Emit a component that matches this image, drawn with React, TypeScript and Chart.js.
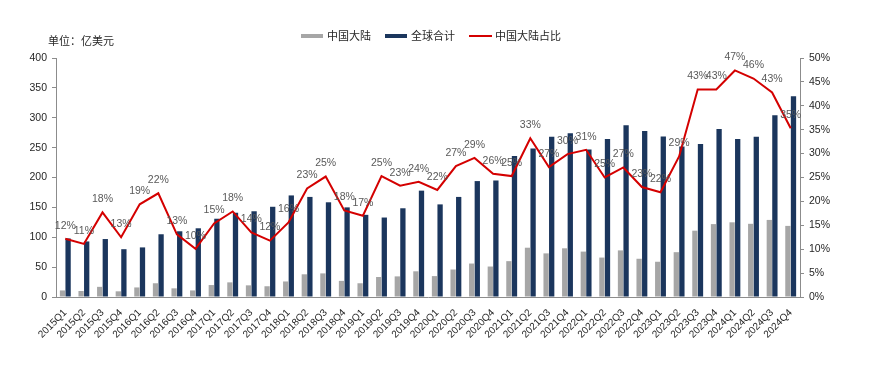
import React, { useEffect, useRef } from "react";
import { Chart, registerables } from "chart.js";

Chart.register(...registerables);

const categories = [
  "2015Q1", "2015Q2", "2015Q3", "2015Q4",
  "2016Q1", "2016Q2", "2016Q3", "2016Q4",
  "2017Q1", "2017Q2", "2017Q3", "2017Q4",
  "2018Q1", "2018Q2", "2018Q3", "2018Q4",
  "2019Q1", "2019Q2", "2019Q3", "2019Q4",
  "2020Q1", "2020Q2", "2020Q3", "2020Q4",
  "2021Q1", "2021Q2", "2021Q3", "2021Q4",
  "2022Q1", "2022Q2", "2022Q3", "2022Q4",
  "2023Q1", "2023Q2", "2023Q3", "2023Q4",
  "2024Q1", "2024Q2", "2024Q3", "2024Q4",
];

const chinaMainland = [
  11, 10, 17, 9.5, 16, 23, 14.5, 11, 20, 24.5, 19.5, 18, 26, 38, 39.5, 27,
  23, 33.5, 34.5, 43, 35, 46, 56, 51, 60, 82.5, 73, 81.5, 76, 66, 78, 64,
  59, 75, 111, 122, 125, 122.5, 129, 119,
];

const globalTotal = [
  98, 93, 97, 80, 83, 105, 110, 115, 131, 141, 143.5, 151, 170, 167.5, 158.5,
  150, 137.5, 133, 148.5, 178, 155, 167.5, 194, 195, 236, 248.5, 268, 274,
  247, 264.5, 287.5, 278, 268.5, 252, 256, 281, 264.5, 268, 304, 336,
];

const chinaShare = [
  12.2, 11.1, 17.7, 12.5, 19.4, 21.7, 13.1, 10.1, 15.4, 17.9, 13.5, 11.8,
  15.6, 22.7, 25.2, 18.1, 17.0, 25.3, 23.3, 24.1, 22.4, 27.4, 29.1, 25.8,
  25.3, 33.2, 27.2, 29.9, 30.8, 25.0, 27.1, 23.0, 21.9, 29.4, 43.4, 43.4,
  47.4, 45.7, 42.8, 35.3,
];

const leftTicks = { min: 0, max: 400, step: 50 };
const rightTicks = { min: 0, max: 50, step: 5 };

const GRAY = "#A6A6A6";
const NAVY = "#1B365D";
const RED = "#D40000";
const AXIS = "#8C8C8C";
const TEXT = "#262626";
const LABEL = "#595959";
const NUM_FONT = "'Liberation Sans', Arial, sans-serif";
const CJK_FONT = "'Noto Sans CJK SC', sans-serif";

const overlayPlugin = {
  id: "overlay",
  afterDatasetsDraw(chart: any) {
    const ctx = chart.ctx;
    const meta = chart.getDatasetMeta(2);
    ctx.save();
    ctx.font = `10.5px ${NUM_FONT}`;
    ctx.fillStyle = LABEL;
    ctx.textAlign = "center";
    ctx.textBaseline = "middle";
    meta.data.forEach((pt: any, i: number) => {
      ctx.fillText(`${Math.round(chinaShare[i])}%`, pt.x, pt.y - 13);
    });
    ctx.restore();
  },
  afterDraw(chart: any) {
    const ctx = chart.ctx;
    ctx.save();
    ctx.font = `11px ${CJK_FONT}`;
    ctx.fillStyle = TEXT;
    ctx.textBaseline = "middle";
    ctx.textAlign = "left";
    ctx.fillText("单位：亿美元", 48, 41);

    const ly = 36;
    ctx.fillStyle = GRAY;
    ctx.fillRect(301, ly - 2, 22, 4);
    ctx.fillStyle = TEXT;
    ctx.fillText("中国大陆", 327, ly);

    ctx.fillStyle = NAVY;
    ctx.fillRect(385, ly - 2, 22, 4);
    ctx.fillStyle = TEXT;
    ctx.fillText("全球合计", 411, ly);

    ctx.strokeStyle = RED;
    ctx.lineWidth = 2;
    ctx.beginPath();
    ctx.moveTo(469, ly);
    ctx.lineTo(492, ly);
    ctx.stroke();
    ctx.fillStyle = TEXT;
    ctx.fillText("中国大陆占比", 495, ly);
    ctx.restore();
  },
};

export default function App() {
  const ref = useRef<HTMLCanvasElement>(null);

  useEffect(() => {
    document.body.style.margin = "0";
    const canvas = ref.current!;
    const chart = new Chart(canvas, {
      type: "bar",
      data: {
        labels: categories,
        datasets: [
          {
            type: "bar",
            label: "中国大陆",
            data: chinaMainland,
            backgroundColor: GRAY,
            yAxisID: "y",
            categoryPercentage: 0.6,
            barPercentage: 0.95,
            order: 1,
          },
          {
            type: "bar",
            label: "全球合计",
            data: globalTotal,
            backgroundColor: NAVY,
            yAxisID: "y",
            categoryPercentage: 0.6,
            barPercentage: 0.95,
            order: 1,
          },
          {
            type: "line",
            label: "中国大陆占比",
            data: chinaShare,
            borderColor: RED,
            backgroundColor: RED,
            borderWidth: 2,
            pointRadius: 0,
            tension: 0,
            yAxisID: "y1",
            order: 0,
          } as any,
        ],
      },
      options: {
        responsive: false,
        animation: false,
        layout: { padding: { top: 58, left: 0, right: 0, bottom: 0 } },
        plugins: {
          legend: { display: false },
          tooltip: { enabled: false },
          title: { display: false },
        },
        scales: {
          x: {
            grid: { display: false },
            border: { color: AXIS, width: 1 },
            ticks: {
              autoSkip: false,
              maxRotation: 45,
              minRotation: 45,
              padding: 2,
              color: TEXT,
              font: { family: NUM_FONT, size: 10 },
            },
            afterFit: (s: any) => {
              s.height = 81;
            },
          },
          y: {
            position: "left",
            min: leftTicks.min,
            max: leftTicks.max,
            ticks: {
              stepSize: leftTicks.step,
              padding: 5,
              color: TEXT,
              font: { family: NUM_FONT, size: 10.5 },
            },
            grid: {
              display: true,
              drawOnChartArea: false,
              drawTicks: true,
              tickLength: 4,
              color: AXIS,
            },
            border: { color: AXIS, width: 1 },
            afterFit: (s: any) => {
              s.width = 56;
            },
          },
          y1: {
            position: "right",
            min: rightTicks.min,
            max: rightTicks.max,
            ticks: {
              stepSize: rightTicks.step,
              padding: 5,
              color: TEXT,
              font: { family: NUM_FONT, size: 10.5 },
              callback: (v: any) => `${v}%`,
            },
            grid: {
              display: true,
              drawOnChartArea: false,
              drawTicks: true,
              tickLength: 4,
              color: AXIS,
            },
            border: { color: AXIS, width: 1 },
            afterFit: (s: any) => {
              s.width = 79;
            },
          },
        },
      },
      plugins: [overlayPlugin],
    });
    return () => chart.destroy();
  }, []);

  return (
    <div style={{ width: 879, height: 378 }}>
      <canvas ref={ref} width={879} height={378} />
    </div>
  );
}
